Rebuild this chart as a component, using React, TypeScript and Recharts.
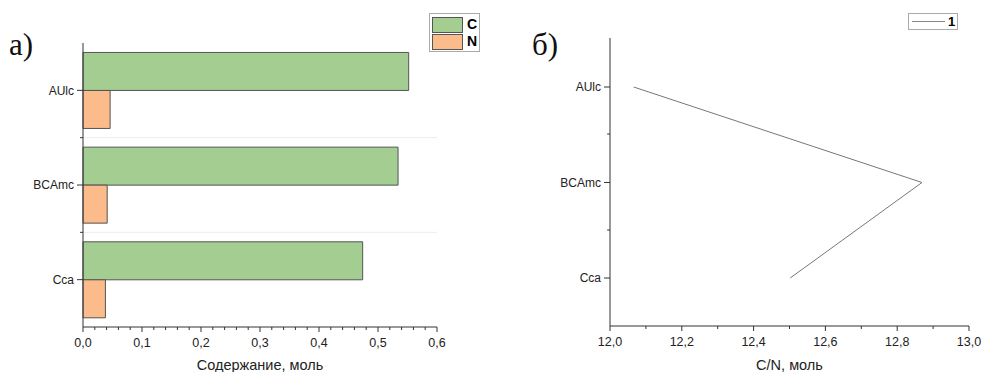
import React from 'react';
import { BarChart, Bar, LineChart, Line, XAxis, YAxis, ReferenceLine } from 'recharts';

const categories = ['AUlc', 'BCAmc', 'Cca'];
const carbon = [0.552, 0.534, 0.474];
const nitrogen = [0.046, 0.041, 0.038];
const ratioCN = [12.066, 12.869, 12.502];

const contentTicks = [0, 0.02, 0.04, 0.06, 0.08, 0.1, 0.12, 0.14, 0.16, 0.18, 0.2, 0.22, 0.24, 0.26, 0.28, 0.3, 0.32, 0.34, 0.36, 0.38, 0.4, 0.42, 0.44, 0.46, 0.48, 0.5, 0.52, 0.54, 0.56, 0.58, 0.6];
const ratioTicks = [12, 12.1, 12.2, 12.3, 12.4, 12.5, 12.6, 12.7, 12.8, 12.9, 13];

const barSeries = [
  { key: 'C', fill: '#a3cd91' },
  { key: 'N', fill: '#fbbb8a' },
];

const barData = categories.map((name, i) => ({ name, C: carbon[i], N: nitrogen[i] }));
const lineData = categories.map((name, i) => ({ name, cn: ratioCN[i] }));
// band boundaries sit at the end of every category except the last
const bandEnds = categories.slice(0, -1);

const sans = '"Liberation Sans", Arial, sans-serif';
const serif = '"Liberation Serif", "Times New Roman", serif';
const ink = '#333';

const fmt = (v: number) => v.toFixed(1).replace('.', ',');

const XTick = ({ x, y, payload, step }: any) => {
  const v = payload.value;
  const major = Math.abs(v / step - Math.round(v / step)) < 1e-6;
  return (
    <g>
      <line x1={x} x2={x} y1={y} y2={y + (major ? 5 : 3)} stroke={ink} />
      {major && (
        <text x={x} y={y + 16} dy="0.35em" textAnchor="middle" fontSize={12.5} fill="#222" fontFamily={sans}>
          {fmt(v)}
        </text>
      )}
    </g>
  );
};

const yTick = { fontSize: 12, fill: '#222', fontFamily: sans };
const titleStyle = { fontSize: 14.5, fill: '#222', fontFamily: sans };

export default function App() {
  return (
    <div style={{ position: 'absolute', left: 0, top: 0, width: 982, height: 372, background: '#fff' }}>
      <div style={{ position: 'absolute', left: 0, top: 0 }}>
        <BarChart
          width={491}
          height={372}
          data={barData}
          layout="vertical"
          barCategoryGap="10%"
          barGap={0}
          margin={{ top: 43, right: 54, left: 0, bottom: 0 }}
        >
          <XAxis
            type="number"
            domain={[0, 0.6]}
            ticks={contentTicks}
            interval={0}
            height={45}
            tickSize={0}
            tickMargin={0}
            tickLine={false}
            axisLine={{ stroke: ink }}
            tick={(p: any) => <XTick {...p} step={0.1} />}
            label={{ value: 'Содержание, моль', position: 'insideBottom', offset: 2, style: titleStyle }}
          />
          <YAxis
            type="category"
            dataKey="name"
            width={83}
            tickSize={6}
            tickMargin={3}
            tick={yTick}
            tickLine={{ stroke: ink }}
            axisLine={{ stroke: ink }}
          />
          {bandEnds.map((c) => (
            <ReferenceLine key={c} y={c} position="end" stroke="#ececec" />
          ))}
          {bandEnds.map((c) => (
            <ReferenceLine
              key={'t' + c}
              segment={[{ x: -0.005, y: c }, { x: 0, y: c }]}
              position="end"
              ifOverflow="visible"
              stroke={ink}
            />
          ))}
          {barSeries.map((s) => (
            <Bar key={s.key} dataKey={s.key} fill={s.fill} stroke="#555" strokeWidth={1} isAnimationActive={false} />
          ))}
        </BarChart>
      </div>

      <div style={{ position: 'absolute', left: 491, top: 0 }}>
        <LineChart width={491} height={372} data={lineData} layout="vertical" margin={{ top: 38, right: 13, left: 0, bottom: 0 }}>
          <XAxis
            type="number"
            domain={[12, 13]}
            ticks={ratioTicks}
            interval={0}
            height={46}
            tickSize={0}
            tickMargin={0}
            tickLine={false}
            axisLine={{ stroke: ink }}
            tick={(p: any) => <XTick {...p} step={0.2} />}
            label={{ value: 'C/N, моль', position: 'insideBottom', offset: 2, style: titleStyle }}
          />
          <YAxis
            type="category"
            dataKey="name"
            width={119}
            padding={{ top: 49, bottom: 48 }}
            tickSize={6}
            tickMargin={3}
            tick={yTick}
            tickLine={{ stroke: ink }}
            axisLine={{ stroke: ink }}
          />
          <YAxis yAxisId="band" type="category" dataKey="name" scale="band" hide />
          {bandEnds.map((c) => (
            <ReferenceLine
              key={c}
              yAxisId="band"
              segment={[{ x: 11.992, y: c }, { x: 12, y: c }]}
              position="end"
              ifOverflow="visible"
              stroke={ink}
            />
          ))}
          <Line dataKey="cn" stroke="#777" strokeWidth={1} dot={false} isAnimationActive={false} />
        </LineChart>
      </div>

      <div style={{ position: 'absolute', left: 9, top: 27, fontFamily: serif, fontSize: 31, color: '#111' }}>a)</div>
      <div style={{ position: 'absolute', left: 532, top: 27, fontFamily: serif, fontSize: 31, color: '#111' }}>б)</div>

      <div
        style={{
          position: 'absolute', left: 429, top: 13, width: 51, height: 39, border: '1px solid #aaa',
          boxSizing: 'border-box', padding: '2px 2px', fontFamily: sans, fontWeight: 'bold', fontSize: 14,
        }}
      >
        {barSeries.map((s) => (
          <div key={s.key} style={{ display: 'flex', alignItems: 'center', height: 17 }}>
            <div style={{ width: 31, height: 16, background: s.fill, border: '1px solid #555', boxSizing: 'border-box' }} />
            <span style={{ marginLeft: 4, lineHeight: '15px' }}>{s.key}</span>
          </div>
        ))}
      </div>

      <div
        style={{
          position: 'absolute', left: 908, top: 13, width: 50, height: 17, border: '1px solid #aaa',
          boxSizing: 'border-box', display: 'flex', alignItems: 'center', fontFamily: sans, fontSize: 13, fontWeight: 'bold',
        }}
      >
        <div style={{ marginLeft: 3, width: 33, height: 0, borderTop: '1px solid #888' }} />
        <span style={{ marginLeft: 3 }}>1</span>
      </div>
    </div>
  );
}
